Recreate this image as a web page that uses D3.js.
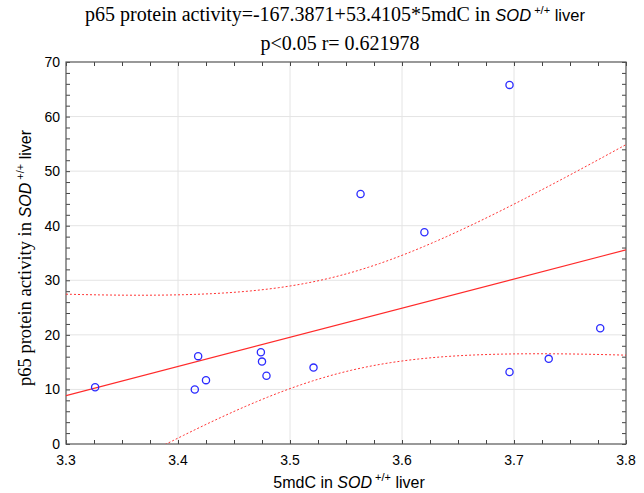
<!DOCTYPE html>
<html>
<head>
<meta charset="utf-8">
<script src="https://cdn.jsdelivr.net/npm/d3@7"></script>
<style>
body { margin:0; background:#fff; }
svg { display:block; }
</style>
</head>
<body>
<svg id="chart" width="644" height="493"></svg>
<script>
// data
var mdc = [3.326, 3.415, 3.418, 3.425, 3.474, 3.475, 3.479, 3.521, 3.563, 3.620, 3.696, 3.696, 3.731, 3.777];
var p65 = [10.4, 10.0, 16.1, 11.7, 16.8, 15.1, 12.5, 14.0, 45.8, 38.8, 65.8, 13.2, 15.6, 21.2];
var intercept = -167.3871, slope = 53.4105;
var xTicks = [3.3, 3.4, 3.5, 3.6, 3.7, 3.8];
var yTicks = [0, 10, 20, 30, 40, 50, 60, 70];

var svg = d3.select("#chart");
var pL = 66, pR = 626, pT = 62, pB = 444;

var x = d3.scaleLinear().domain([3.3, 3.8]).range([pL, pR]);
var y = d3.scaleLinear().domain([0, 70]).range([pB, pT]);

var sans = "Liberation Sans, Arial, sans-serif";
var serif = "Liberation Serif, Times New Roman, serif";

// grid
svg.append("g").selectAll("line").data(xTicks.slice(1, -1))
  .enter().append("line")
  .attr("x1", function(d) { return x(d); }).attr("x2", function(d) { return x(d); })
  .attr("y1", pT).attr("y2", pB)
  .attr("stroke", "#e4e4e4").attr("stroke-width", 1);
svg.append("g").selectAll("line").data(yTicks.slice(1, -1))
  .enter().append("line")
  .attr("y1", function(d) { return y(d); }).attr("y2", function(d) { return y(d); })
  .attr("x1", pL).attr("x2", pR)
  .attr("stroke", "#e4e4e4").attr("stroke-width", 1);

// axes with inward ticks on all sides
var xMinor = d3.range(3.3, 3.8001, 0.025);
var yMinor = d3.range(0, 70.001, 2);
svg.append("g").attr("transform", "translate(0," + pB + ")")
  .call(d3.axisTop(x).tickValues(xMinor).tickSize(4).tickFormat(""));
svg.append("g").attr("transform", "translate(0," + pT + ")")
  .call(d3.axisBottom(x).tickValues(xMinor).tickSize(4).tickFormat(""));
svg.append("g").attr("transform", "translate(" + pL + ",0)")
  .call(d3.axisRight(y).tickValues(yMinor).tickSize(4).tickFormat(""));
svg.append("g").attr("transform", "translate(" + pR + ",0)")
  .call(d3.axisLeft(y).tickValues(yMinor).tickSize(4).tickFormat(""));
svg.selectAll(".domain").remove();
svg.selectAll(".tick line").attr("stroke", "#444");

svg.append("rect").attr("x", pL).attr("y", pT)
  .attr("width", pR - pL).attr("height", pB - pT)
  .attr("fill", "none").attr("stroke", "#555").attr("stroke-width", 1.2);

// tick labels
svg.append("g").selectAll("text").data(xTicks)
  .enter().append("text")
  .attr("x", function(d) { return x(d); }).attr("y", pB + 21)
  .attr("text-anchor", "middle").attr("font-family", sans).attr("font-size", 14)
  .text(function(d) { return d3.format(".1f")(d); });
svg.append("g").selectAll("text").data(yTicks)
  .enter().append("text")
  .attr("x", pL - 6).attr("y", function(d) { return y(d) + 5; })
  .attr("text-anchor", "end").attr("font-family", sans).attr("font-size", 14)
  .text(function(d) { return d; });

// regression line and 95% band
var n = mdc.length;
var mx = d3.mean(mdc);
var sxx = d3.sum(mdc, function(v) { return (v - mx) * (v - mx); });
var sse = d3.sum(mdc, function(v, i) { var r = p65[i] - (intercept + slope * v); return r * r; });
var s = Math.sqrt(sse / (n - 2));
var tq = 2.179;
var fit = function(v) { return intercept + slope * v; };
var half = function(v) { return tq * s * Math.sqrt(1 / n + (v - mx) * (v - mx) / sxx); };
var xs = d3.range(3.3, 3.8001, 0.005);

svg.append("clipPath").attr("id", "clip").append("rect")
  .attr("x", pL).attr("y", pT).attr("width", pR - pL).attr("height", pB - pT);
var plot = svg.append("g").attr("clip-path", "url(#clip)");

var line = d3.line().x(function(d) { return x(d[0]); }).y(function(d) { return y(d[1]); });
plot.append("path")
  .attr("d", line([[3.3, fit(3.3)], [3.8, fit(3.8)]]))
  .attr("fill", "none").attr("stroke", "#ff2a2a").attr("stroke-width", 1.1);
plot.append("path")
  .attr("d", line(xs.map(function(v) { return [v, fit(v) + half(v)]; })))
  .attr("fill", "none").attr("stroke", "#ff3333").attr("stroke-width", 1).attr("stroke-dasharray", "2,2");
plot.append("path")
  .attr("d", line(xs.map(function(v) { return [v, fit(v) - half(v)]; })))
  .attr("fill", "none").attr("stroke", "#ff3333").attr("stroke-width", 1).attr("stroke-dasharray", "2,2");

// points
svg.append("g").selectAll("circle").data(mdc)
  .enter().append("circle")
  .attr("cx", function(d) { return x(d); })
  .attr("cy", function(d, i) { return y(p65[i]); })
  .attr("r", 3.6)
  .attr("fill", "none").attr("stroke", "#2b2bff").attr("stroke-width", 1.3);

// titles
var t1 = svg.append("text").attr("x", 335).attr("y", 21)
  .attr("text-anchor", "middle").attr("font-family", serif).attr("font-size", 20);
t1.append("tspan").text("p65 protein activity=-167.3871+53.4105*5mdC in ");
t1.append("tspan").attr("font-family", sans).attr("font-style", "italic").attr("font-size", 16.5).text("SOD");
t1.append("tspan").attr("font-family", sans).attr("font-size", 11).attr("dy", -7).text(" +/+");
t1.append("tspan").attr("font-family", sans).attr("font-size", 16.5).attr("dy", 7).text(" liver");

svg.append("text").attr("x", 340).attr("y", 50)
  .attr("text-anchor", "middle").attr("font-family", serif).attr("font-size", 20)
  .text("p<0.05 r= 0.621978");

var xl = svg.append("text").attr("x", 349).attr("y", 488)
  .attr("text-anchor", "middle").attr("font-family", sans).attr("font-size", 16);
xl.append("tspan").text("5mdC in ");
xl.append("tspan").attr("font-style", "italic").text("SOD");
xl.append("tspan").attr("font-size", 11).attr("dy", -7).text(" +/+");
xl.append("tspan").attr("dy", 7).text(" liver");

var yl = svg.append("text").attr("transform", "translate(31,258) rotate(-90)")
  .attr("text-anchor", "middle").attr("font-family", serif).attr("font-size", 18.5);
yl.append("tspan").text("p65 protein activity in ");
yl.append("tspan").attr("font-family", sans).attr("font-style", "italic").attr("font-size", 16).text("SOD");
yl.append("tspan").attr("font-family", sans).attr("font-size", 11).attr("dy", -7).text(" +/+");
yl.append("tspan").attr("font-family", sans).attr("font-size", 16).attr("dy", 7).text(" liver");
</script>
</body>
</html>
